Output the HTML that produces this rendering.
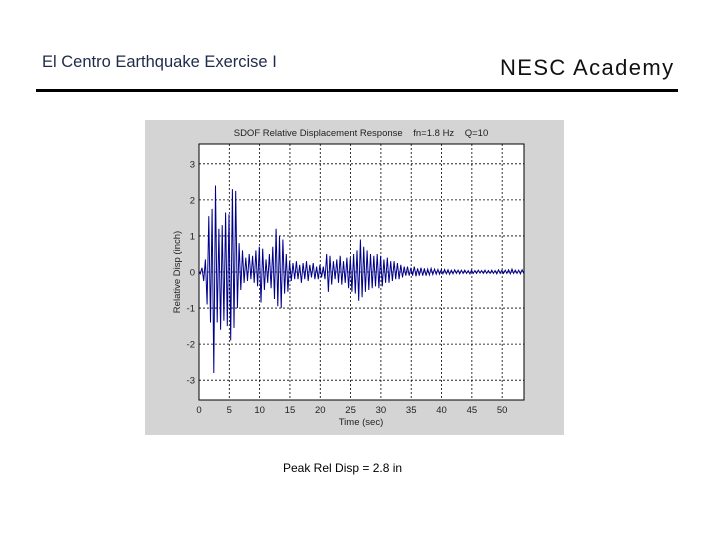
<!DOCTYPE html>
<html><head><meta charset="utf-8"><style>
body{margin:0;width:720px;height:540px;background:#fff;position:relative;font-family:"Liberation Sans",sans-serif;overflow:hidden}
.t{position:absolute;white-space:nowrap}
</style></head><body>
<div class="t" style="left:42px;top:53px;font-size:16.5px;color:#1f2a4a">El Centro Earthquake Exercise I</div>
<div class="t" style="left:500px;top:55px;font-size:22px;letter-spacing:1.4px;color:#111">NESC Academy</div>
<div style="position:absolute;left:36px;top:89px;width:642px;height:3px;background:#000"></div>
<svg style="position:absolute;left:145px;top:120px" width="419" height="315" viewBox="145 120 419 315">
<rect x="145" y="120" width="419" height="315" fill="#d4d4d4"/>
<rect x="199" y="144" width="325" height="256" fill="#fff" stroke="#000" stroke-width="1"/>
<g id="grid"></g><g id="ticks"></g>
<polyline id="series" fill="none" stroke="#00008b" stroke-width="1"/>
<text x="361" y="136" text-anchor="middle" font-size="9.5" fill="#222" xml:space="preserve" style="white-space:pre">SDOF Relative Displacement Response    fn=1.8 Hz    Q=10</text>
<text x="361" y="425" text-anchor="middle" font-size="9.5" fill="#222">Time (sec)</text>
<text transform="translate(180,272) rotate(-90)" text-anchor="middle" font-size="9.5" fill="#222">Relative Disp (inch)</text>
</svg>
<div class="t" style="left:283px;top:461px;font-size:12px;color:#000">Peak Rel Disp = 2.8 in</div>
<script>
const xTicks=[0,5,10,15,20,25,30,35,40,45,50];
const yTicks=[-3,-2,-1,0,1,2,3];
const dt=0.2778;
const disp=[-0.05,0.12,-0.25,0.35,-0.9,1.55,-1.4,1.75,-2.8,2.4,-1.4,1.2,-1.6,1.3,-1.35,1.65,-1.5,1.6,-1.9,2.3,-1.55,2.25,-1.0,0.8,-0.5,0.6,-0.3,0.4,-0.25,0.5,-0.2,0.45,-0.3,0.6,-0.4,0.7,-0.85,0.65,-0.5,0.35,-0.3,0.5,-0.45,0.7,-0.75,1.2,-0.95,1.0,-1.0,0.9,-0.6,0.5,-0.55,0.3,-0.25,0.25,-0.2,0.3,-0.2,0.2,-0.3,0.25,-0.2,0.3,-0.25,0.2,-0.15,0.25,-0.2,0.15,-0.2,0.2,-0.15,0.15,-0.2,0.5,-0.55,0.45,-0.35,0.3,-0.2,0.35,-0.3,0.45,-0.35,0.3,-0.3,0.4,-0.45,0.4,-0.55,0.5,-0.6,0.6,-0.8,0.9,-0.7,0.7,-0.55,0.6,-0.5,0.5,-0.45,0.45,-0.4,0.5,-0.45,0.45,-0.4,0.35,-0.3,0.4,-0.3,0.3,-0.25,0.3,-0.2,0.25,-0.2,0.2,-0.15,0.15,-0.1,0.15,-0.1,0.12,-0.1,0.15,-0.12,0.1,-0.1,0.12,-0.1,0.1,-0.1,0.08,-0.08,0.1,-0.07,0.08,-0.06,0.07,-0.06,0.06,-0.05,0.07,-0.05,0.06,-0.06,0.05,-0.05,0.06,-0.04,0.05,-0.05,0.05,-0.04,0.05,-0.04,0.04,-0.05,0.05,-0.04,0.04,-0.04,0.05,-0.03,0.04,-0.04,0.05,-0.04,0.04,-0.04,0.05,-0.04,0.04,-0.05,0.06,-0.04,0.05,-0.04,0.05,-0.04,0.06,-0.05,0.08,-0.04,0.05,-0.04,0.05,-0.05,0.06,-0.04,0.05,-0.04,0.07,-0.03];
const X0=199,X1=524,Y0=144,Y1=400,xmax=53.6,ymin=-3.55,ymax=3.55;
const xs=t=>X0+(t/xmax)*(X1-X0);
const ys=v=>Y1-(v-ymin)/(ymax-ymin)*(Y1-Y0);
const NS="http://www.w3.org/2000/svg";
const g=document.getElementById('grid'),tk=document.getElementById('ticks');
function mk(tag,a,p){const e=document.createElementNS(NS,tag);for(const k in a)e.setAttribute(k,a[k]);p.appendChild(e);return e;}
xTicks.forEach(t=>{const x=xs(t);
 if(t>0){const l=mk('line',{x1:x,x2:x,y1:Y0,y2:Y1,stroke:'#000','stroke-dasharray':'2,2','stroke-width':0.8},g);
 
 }
 const s=mk('text',{x:x,y:413,'text-anchor':'middle','font-size':9.5,fill:'#222'},tk);s.textContent=t;
 
 });
yTicks.forEach(v=>{const y=ys(v);
 const l=mk('line',{x1:X0,x2:X1,y1:y,y2:y,stroke:'#000','stroke-dasharray':'2,2','stroke-width':0.8},g);
 
 
 const s=mk('text',{x:195,y:y+3.5,'text-anchor':'end','font-size':9.5,fill:'#222'},tk);s.textContent=v;
 
 });
const pts=[[xs(0),ys(0)]];
disp.forEach((v,i)=>{const t=(i+0.8)*dt;if(t<=xmax)pts.push([xs(t),ys(v)]);});
document.getElementById('series').setAttribute('points',pts.map(p=>p[0].toFixed(1)+','+p[1].toFixed(1)).join(' '));
</script>
</body></html>
